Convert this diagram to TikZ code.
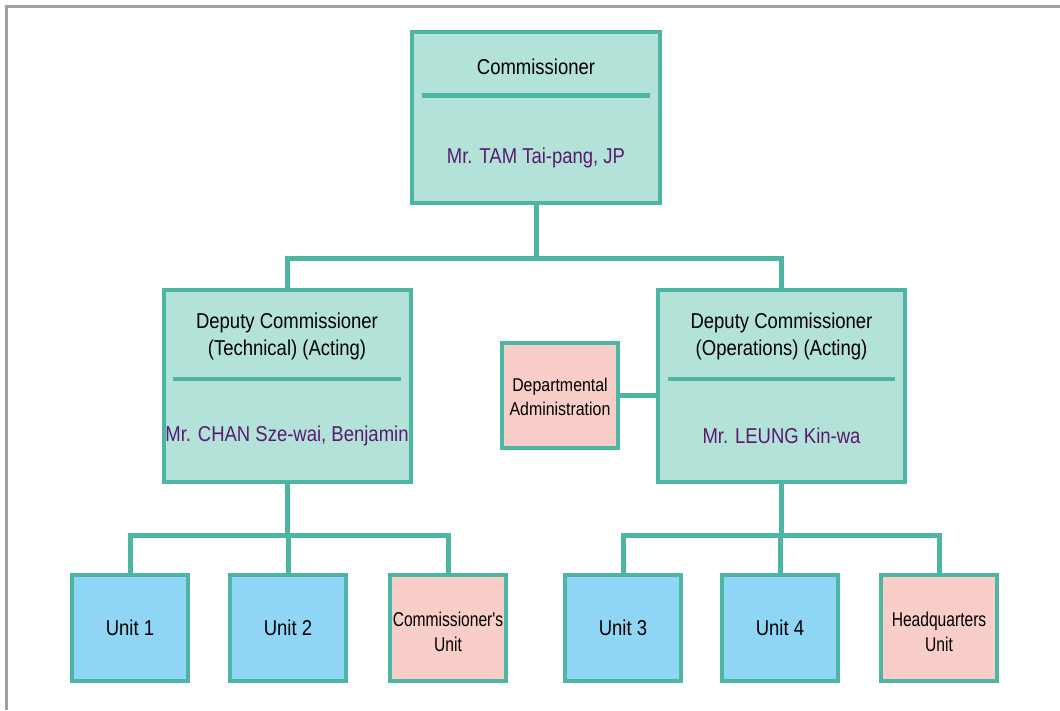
\documentclass[tikz,border=0pt]{standalone}
\usepackage{fontspec}
\setmainfont{Liberation Sans}
\newfontfamily\condfont[FakeStretch=0.86]{Liberation Sans}
\newfontfamily\narrowfont[FakeStretch=0.78]{Liberation Sans}
\definecolor{tealline}{HTML}{4DB6A2}
\definecolor{tealfill}{HTML}{B3E2D9}
\definecolor{bluefill}{HTML}{8FD5F5}
\definecolor{pinkfill}{HTML}{F9CEC8}
\definecolor{nametext}{HTML}{5A1A70}
\definecolor{framegray}{HTML}{A0A0A0}
\tikzset{
  boxbase/.style={draw=tealline, line width=4pt, inner sep=0pt, outer sep=0pt},
  bigbox/.style={boxbase, fill=tealfill, minimum width=247pt, minimum height=192pt},
  cbox/.style={boxbase, fill=tealfill, minimum width=248pt, minimum height=171pt},
  unitbox/.style={boxbase, fill=bluefill, minimum width=116pt, minimum height=106pt, font=\condfont\fontsize{21.5}{24}\selectfont},
  pinkbox/.style={boxbase, fill=pinkfill, minimum width=116pt, minimum height=106pt},
  pinktext/.style={align=center, font=\narrowfont\fontsize{20}{25}\selectfont},
  conn/.style={draw=tealline, line width=5pt},
  divider/.style={draw=tealline, line width=4.5pt},
  titletext/.style={align=center, font=\condfont\fontsize{21.5}{27}\selectfont},
  nametxt/.style={text=nametext, font=\condfont\fontsize{21.5}{24}\selectfont},
}
\begin{document}
\begin{tikzpicture}[x=1pt, y=-1pt]
\useasboundingbox (0,0) rectangle (1060,710);
\draw[framegray, line width=3pt] (6.5,710) -- (6.5,6.5) -- (1060,6.5);

% Commissioner
\node[cbox] (com) at (536,117.5) {};
\node[titletext] (comT) at (536,67) {Commissioner};
\node[nametxt] (comN) at (536,158) {Mr. TAM Tai-pang, JP};
\draw[divider] (422,95.5) -- (650,95.5);

% Deputy commissioners
\node[bigbox] (dct) at (287,386) {};
\node[titletext] (dctT) at (287,336.5) {Deputy Commissioner\\(Technical) (Acting)};
\node[nametxt] (dctN) at (287,436) {Mr. CHAN Sze-wai, Benjamin};
\draw[divider] (173,379) -- (401,379);

\node[bigbox] (dco) at (781.5,386) {};
\node[titletext] (dcoT) at (781.5,336.5) {Deputy Commissioner\\(Operations) (Acting)};
\node[nametxt] (dcoN) at (781.5,436) {Mr. LEUNG Kin-wa};
\draw[divider] (668,379) -- (895,379);

% Departmental Administration
\node[pinkbox, minimum height=105pt] (dept) at (560,395.5) {};
\node[pinktext, font=\condfont\fontsize{18.5}{24}\selectfont] (deptT) at (560,397) {Departmental\\Administration};

% Bottom boxes
\node[unitbox] (u1) at (130,628) {\raisebox{-3pt}{Unit 1}};
\node[unitbox] (u2) at (288,628) {\raisebox{-3pt}{Unit 2}};
\node[pinkbox] (cu) at (448,628) {};
\node[pinktext] (cuT) at (448,631.5) {Commissioner's\\Unit};
\node[unitbox] (u3) at (623,628) {\raisebox{-3pt}{Unit 3}};
\node[unitbox] (u4) at (780,628) {\raisebox{-3pt}{Unit 4}};
\node[pinkbox] (hq) at (939,628) {};
\node[pinktext] (hqT) at (939,631.5) {Headquarters\\Unit};

% Connectors
\coordinate (j1) at (536,258);
\draw[conn] (com.south) -- (j1);
\draw[conn] (dct.north) |- (j1) -| (dco.north);

\coordinate (j2) at (287,535);
\draw[conn] (dct.south) -- (j2);
\draw[conn] (u1.north) |- (j2) -| (cu.north);
\draw[conn] (u2.north) -- (u2.north |- j2);

\coordinate (j3) at (781.5,535);
\draw[conn] (dco.south) -- (j3);
\draw[conn] (u3.north) |- (j3) -| (hq.north);
\draw[conn] (u4.north) -- (u4.north |- j3);

\draw[conn] (dept.east) -- (dept.east -| dco.west);
\end{tikzpicture}
\end{document}
